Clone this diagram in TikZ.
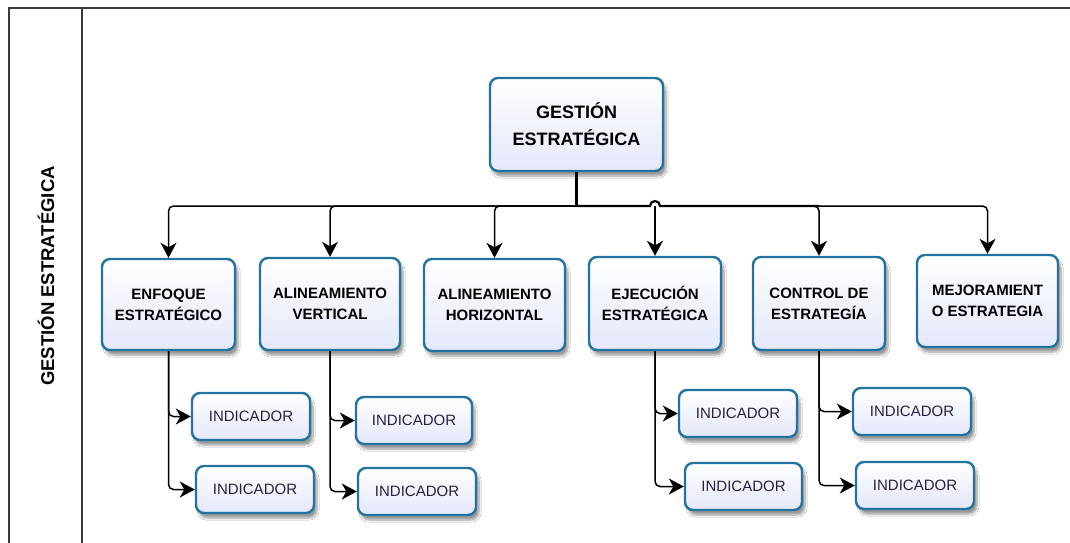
\documentclass[tikz,border=0pt]{standalone}
\usepackage{fontspec}
\setmainfont{Liberation Sans}
\usetikzlibrary{arrows.meta,shadows.blur}
\definecolor{boxline}{HTML}{22739F}
\definecolor{boxbottom}{HTML}{E4E8FA}
\definecolor{frameline}{HTML}{3A3A3A}
\definecolor{indtext}{HTML}{2A2040}
\tikzset{
  box/.style={draw=boxline, line width=2.4pt, rounded corners=8pt,
    top color=white, bottom color=boxbottom, align=center,
    blur shadow={shadow xshift=3pt, shadow yshift=-5pt, shadow blur steps=8, shadow opacity=40},
    font=\bfseries\fontsize{15}{21}\selectfont, inner sep=0pt},
  topbox/.style={box, font=\bfseries\fontsize{18}{27}\selectfont},
  indbox/.style={box, font=\fontsize{15}{18}\selectfont, text=indtext,
    minimum width=118pt, minimum height=47pt},
  conn/.style={draw=black, line width=1.5pt, rounded corners=5pt},
  arr/.style={conn, -{Stealth[length=15pt, width=16pt, inset=4.5pt]}},
  frame/.style={draw=frameline, line width=2pt}
}
\begin{document}
\begin{tikzpicture}[x=1pt, y=-1pt]
\useasboundingbox (0,0) rectangle (1070,543);
\fill[white] (0,0) rectangle (1070,543);

% lane frame
\draw[frame] (9,543) -- (9,8) -- (1070,8);
\draw[frame] (82,8) -- (82,543);
\node[rotate=90, font=\bfseries\fontsize{18.5}{20}\selectfont] (lane) at (46,276) {GESTIÓN ESTRATÉGICA};

% root
\node[topbox, minimum width=173pt, minimum height=93pt] (top) at (576.5,124.5) {GESTIÓN\\ESTRATÉGICA};

% second level
\node[box, minimum width=133pt, minimum height=91pt] (enf) at (168.5,304.5) {ENFOQUE\\ESTRATÉGICO};
\node[box, minimum width=140pt, minimum height=92pt] (av) at (330,304) {ALINEAMIENTO\\VERTICAL};
\node[box, minimum width=141pt, minimum height=92pt] (ah) at (494.5,305) {ALINEAMIENTO\\HORIZONTAL};
\node[box, minimum width=132pt, minimum height=93pt] (ej) at (655,303.5) {EJECUCIÓN\\ESTRATÉGICA};
\node[box, minimum width=132pt, minimum height=93pt] (ctl) at (819,303.5) {CONTROL DE\\ESTRATEGÍA};
\node[box, minimum width=141pt, minimum height=92pt] (mej) at (987.5,301) {MEJORAMIENT\\O ESTRATEGIA};

% indicators
\node[indbox] (i1) at (251,416.5) {INDICADOR};
\node[indbox] (i2) at (255,489.5) {INDICADOR};
\node[indbox, minimum width=116pt] (i3) at (414,420.5) {INDICADOR};
\node[indbox] (i4) at (417,491.5) {INDICADOR};
\node[indbox] (i5) at (738,413.5) {INDICADOR};
\node[indbox, minimum width=117pt] (i6) at (743.5,486.5) {INDICADOR};
\node[indbox] (i7) at (912,411.5) {INDICADOR};
\node[indbox] (i8) at (915,485.5) {INDICADOR};

% bus from the root
\coordinate (bus) at (0,206);
\coordinate (hopL) at (650,206);
\coordinate (hopR) at (660,206);
\draw[conn, line width=2.4pt, rounded corners=0pt] (top.south) -- (top.south |- bus);
\draw[arr] (top.south |- bus) -| (enf.north);
\draw[arr] (top.south |- bus) -| (av.north);
\draw[arr] (top.south |- bus) -| (ah.north);
\draw[conn, line width=2.2pt, rounded corners=0pt] (top.south |- bus) -- (hopL)
  arc[start angle=180, end angle=0, radius=5pt] -- (ctl.north |- bus);
\draw[arr] (ej.north |- bus) -- (ej.north);
\draw[arr] (hopR) -| (ctl.north);
\draw[arr] (hopR) -| (mej.north);

% indicator links
\draw[arr] (enf.south) |- (i1.west);
\draw[arr] (enf.south) |- (i2.west);
\draw[arr] (av.south) |- (i3.west);
\draw[arr] (av.south) |- (i4.west);
\draw[arr] (ej.south) |- (i5.west);
\draw[arr] (ej.south) |- (i6.west);
\draw[arr] (ctl.south) |- (i7.west);
\draw[arr] (ctl.south) |- (i8.west);
\end{tikzpicture}
\end{document}
